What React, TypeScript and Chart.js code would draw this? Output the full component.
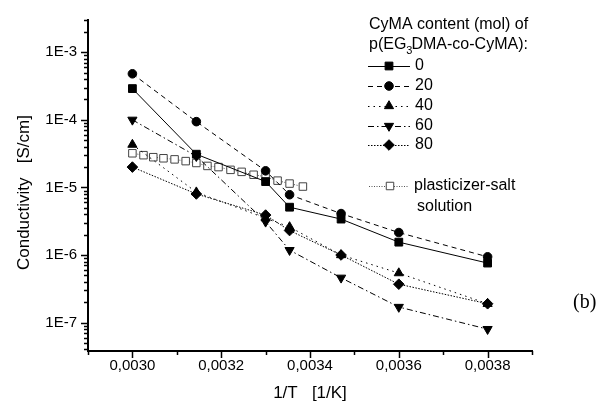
import React, { useEffect, useRef } from 'react';
import { Chart, registerables } from 'chart.js';
import { drawPoint } from 'chart.js/helpers';

Chart.register(...registerables);

// 1/T values (1/K) for the polymer electrolytes
const invT = [0.0030, 0.003144, 0.0033, 0.003354, 0.00347, 0.0036, 0.0038];
// conductivity (S/cm) by CyMA content (mol)
const cyma0 = [2.9e-4, 3.1e-5, 1.22e-5, 5.1e-6, 3.4e-6, 1.55e-6, 7.6e-7];
const cyma20 = [4.8e-4, 9.4e-5, 1.76e-5, 7.8e-6, 4.1e-6, 2.15e-6, 9.4e-7];
const cyma40 = [4.3e-5, 8.5e-6, 3.5e-6, 2.6e-6, 1.0e-6, 5.4e-7, 1.9e-7];
const cyma60 = [1.0e-4, 2.9e-5, 3.1e-6, 1.18e-6, 4.6e-7, 1.7e-7, 8.0e-8];
const cyma80 = [2.0e-5, 8.0e-6, 3.9e-6, 2.3e-6, 1.0e-6, 3.7e-7, 1.9e-7];
// plasticizer-salt solution
const plastInvT = [0.0030, 0.003025, 0.003047, 0.00307, 0.003095, 0.00312, 0.003144, 0.003169, 0.003194, 0.003221, 0.003246, 0.003273, 0.0033, 0.003327, 0.003354, 0.003384];
const plastCond = [3.2e-5, 3.0e-5, 2.8e-5, 2.7e-5, 2.6e-5, 2.45e-5, 2.3e-5, 2.08e-5, 2.0e-5, 1.82e-5, 1.7e-5, 1.54e-5, 1.44e-5, 1.26e-5, 1.14e-5, 1.03e-5];

const seriesLabels = ['0', '20', '40', '60', '80'];
const xTickValues = [0.0030, 0.0032, 0.0034, 0.0036, 0.0038];
const yTickValues = [1e-7, 1e-6, 1e-5, 1e-4, 1e-3];
const xMin = 0.0029;
const xMax = 0.0039;
const yMin = 3.8e-8;
const yMax = 3.0e-3;

const SANS = '"Liberation Sans", Arial, Helvetica, sans-serif';

const pts = (xs: number[], ys: number[]) => xs.map((x, i) => ({ x, y: ys[i] }));

const decorPlugin = {
  id: 'decor',
  afterDraw(chart: any) {
    const { ctx, chartArea: area } = chart;
    const xs = chart.scales.x;
    const ys = chart.scales.y;
    ctx.save();
    ctx.strokeStyle = '#000';
    ctx.lineWidth = 1.5;
    ctx.setLineDash([]);
    // y ticks (major & minor)
    for (let e = -8; e <= -3; e++) {
      for (let m = 1; m <= 9; m++) {
        const v = m * Math.pow(10, e);
        if (v < yMin || v > yMax) continue;
        const py = Math.round(ys.getPixelForValue(v)) + 0.5;
        const len = m === 1 ? 7 : 4;
        ctx.beginPath();
        ctx.moveTo(area.left - len, py);
        ctx.lineTo(area.left, py);
        ctx.stroke();
      }
    }
    // x ticks
    for (let i = 0; i <= 10; i++) {
      const v = xMin + i * 0.0001;
      const px = Math.round(xs.getPixelForValue(v)) + 0.5;
      const len = i % 2 === 1 ? 7 : 4;
      ctx.beginPath();
      ctx.moveTo(px, area.bottom);
      ctx.lineTo(px, area.bottom + len);
      ctx.stroke();
    }

    // legend
    const dsets = chart.data.datasets;
    ctx.fillStyle = '#000';
    ctx.font = `16px ${SANS}`;
    ctx.textBaseline = 'middle';
    ctx.textAlign = 'left';
    ctx.fillText('CyMA content (mol) of', 369, 25);
    let tx = 369;
    const part1 = 'p(EG';
    ctx.fillText(part1, tx, 45);
    tx += ctx.measureText(part1).width;
    ctx.font = `11px ${SANS}`;
    ctx.fillText('3', tx, 51);
    tx += ctx.measureText('3').width - 1;
    ctx.font = `16px ${SANS}`;
    ctx.fillText('DMA-co-CyMA):', tx, 45);

    const rows = [
      { i: 0, y: 66, x0: 368, x1: 410, mx: 389, tx: 415 },
      { i: 1, y: 86, x0: 368, x1: 410, mx: 389, tx: 415 },
      { i: 2, y: 106, x0: 368, x1: 410, mx: 389, tx: 415 },
      { i: 3, y: 126, x0: 368, x1: 410, mx: 389, tx: 415 },
      { i: 4, y: 145, x0: 368, x1: 410, mx: 389, tx: 415 },
      { i: 5, y: 186, x0: 369, x1: 409, mx: 390, tx: 414 },
    ];
    rows.forEach((r) => {
      const ds = dsets[r.i];
      ctx.save();
      ctx.strokeStyle = ds.borderColor;
      ctx.lineWidth = ds.borderWidth;
      ctx.setLineDash(ds.borderDash || []);
      ctx.beginPath();
      ctx.moveTo(r.x0, r.y + 0.5);
      ctx.lineTo(r.x1, r.y + 0.5);
      ctx.stroke();
      ctx.setLineDash([]);
      ctx.fillStyle = ds.pointBackgroundColor;
      ctx.strokeStyle = ds.pointBorderColor;
      ctx.lineWidth = ds.pointBorderWidth;
      drawPoint(ctx, {
        pointStyle: ds.pointStyle,
        rotation: ds.pointRotation || 0,
        radius: ds.pointRadius,
        borderWidth: ds.pointBorderWidth,
      }, r.mx, r.y);
      ctx.restore();
      ctx.fillStyle = '#000';
      ctx.font = `16px ${SANS}`;
      ctx.fillText(ds.label, r.tx, r.y);
    });
    ctx.fillText('solution', 417, 207);

    // panel label
    ctx.font = '20px "Liberation Serif", "Times New Roman", serif';
    ctx.fillText('(b)', 573, 303);
    ctx.restore();
  },
};

export default function App() {
  const ref = useRef<HTMLCanvasElement | null>(null);

  useEffect(() => {
    if (!ref.current) return;
    const common = { borderColor: '#000', borderWidth: 1, pointBorderColor: '#000', pointBackgroundColor: '#000', pointBorderWidth: 1, fill: false, tension: 0 };
    const chart = new Chart(ref.current, {
      type: 'line',
      data: {
        datasets: [
          { ...common, label: seriesLabels[0], data: pts(invT, cyma0), borderDash: [], pointStyle: 'rect', pointRadius: 5.5 },
          { ...common, label: seriesLabels[1], data: pts(invT, cyma20), borderDash: [5, 4], pointStyle: 'circle', pointRadius: 4.3 },
          { ...common, label: seriesLabels[2], data: pts(invT, cyma40), borderDash: [1.5, 4], pointStyle: 'triangle', pointRadius: 5.3 },
          { ...common, label: seriesLabels[3], data: pts(invT, cyma60), borderDash: [6, 3, 1.5, 3], pointStyle: 'triangle', pointRotation: 180, pointRadius: 5.3 },
          { ...common, label: seriesLabels[4], data: pts(invT, cyma80), borderDash: [1.5, 1.5], pointStyle: 'rectRot', pointRadius: 5.3 },
          { ...common, label: 'plasticizer-salt', data: pts(plastInvT, plastCond), borderColor: '#555', borderDash: [1, 1.5], pointStyle: 'rect', pointRadius: 5.3, pointBorderColor: '#444', pointBackgroundColor: '#fff' },
        ] as any,
      },
      options: {
        responsive: false,
        animation: false,
        devicePixelRatio: 1,
        layout: { padding: { left: 0, right: 69, top: 14, bottom: 0 } },
        plugins: { legend: { display: false }, tooltip: { enabled: false } },
        scales: {
          x: {
            type: 'linear',
            min: xMin,
            max: xMax,
            grid: { display: false, drawTicks: false },
            border: { display: true, color: '#000', width: 2 },
            afterBuildTicks: (s: any) => { s.ticks = xTickValues.map((v) => ({ value: v })); },
            afterFit: (s: any) => { s.height = 55; },
            ticks: {
              padding: 6,
              color: '#000',
              font: { family: SANS, size: 15 },
              callback: (v: any) => Number(v).toFixed(4).replace('.', ','),
            },
            title: {
              display: true,
              text: '1/T   [1/K]',
              color: '#000',
              font: { family: SANS, size: 17 },
              padding: { top: 0, bottom: 2 },
            },
          },
          y: {
            type: 'logarithmic',
            min: yMin,
            max: yMax,
            grid: { display: false, drawTicks: false },
            border: { display: true, color: '#000', width: 2 },
            afterBuildTicks: (s: any) => { s.ticks = yTickValues.map((v) => ({ value: v, major: true })); },
            afterFit: (s: any) => { s.width = 88; },
            ticks: {
              padding: 11,
              color: '#000',
              font: { family: SANS, size: 15 },
              callback: (v: any) => '1E' + Math.round(Math.log10(Number(v))),
            },
            title: {
              display: true,
              text: 'Conductivity   [S/cm]   ',
              color: '#000',
              font: { family: SANS, size: 17 },
              padding: { top: 14, bottom: 0 },
            },
          },
        },
      },
      plugins: [decorPlugin],
    } as any);
    return () => chart.destroy();
  }, []);

  return (
    <div style={{ position: 'absolute', left: 0, top: 0, width: 601, height: 406, background: '#fff' }}>
      <canvas ref={ref} width={601} height={406} />
    </div>
  );
}
